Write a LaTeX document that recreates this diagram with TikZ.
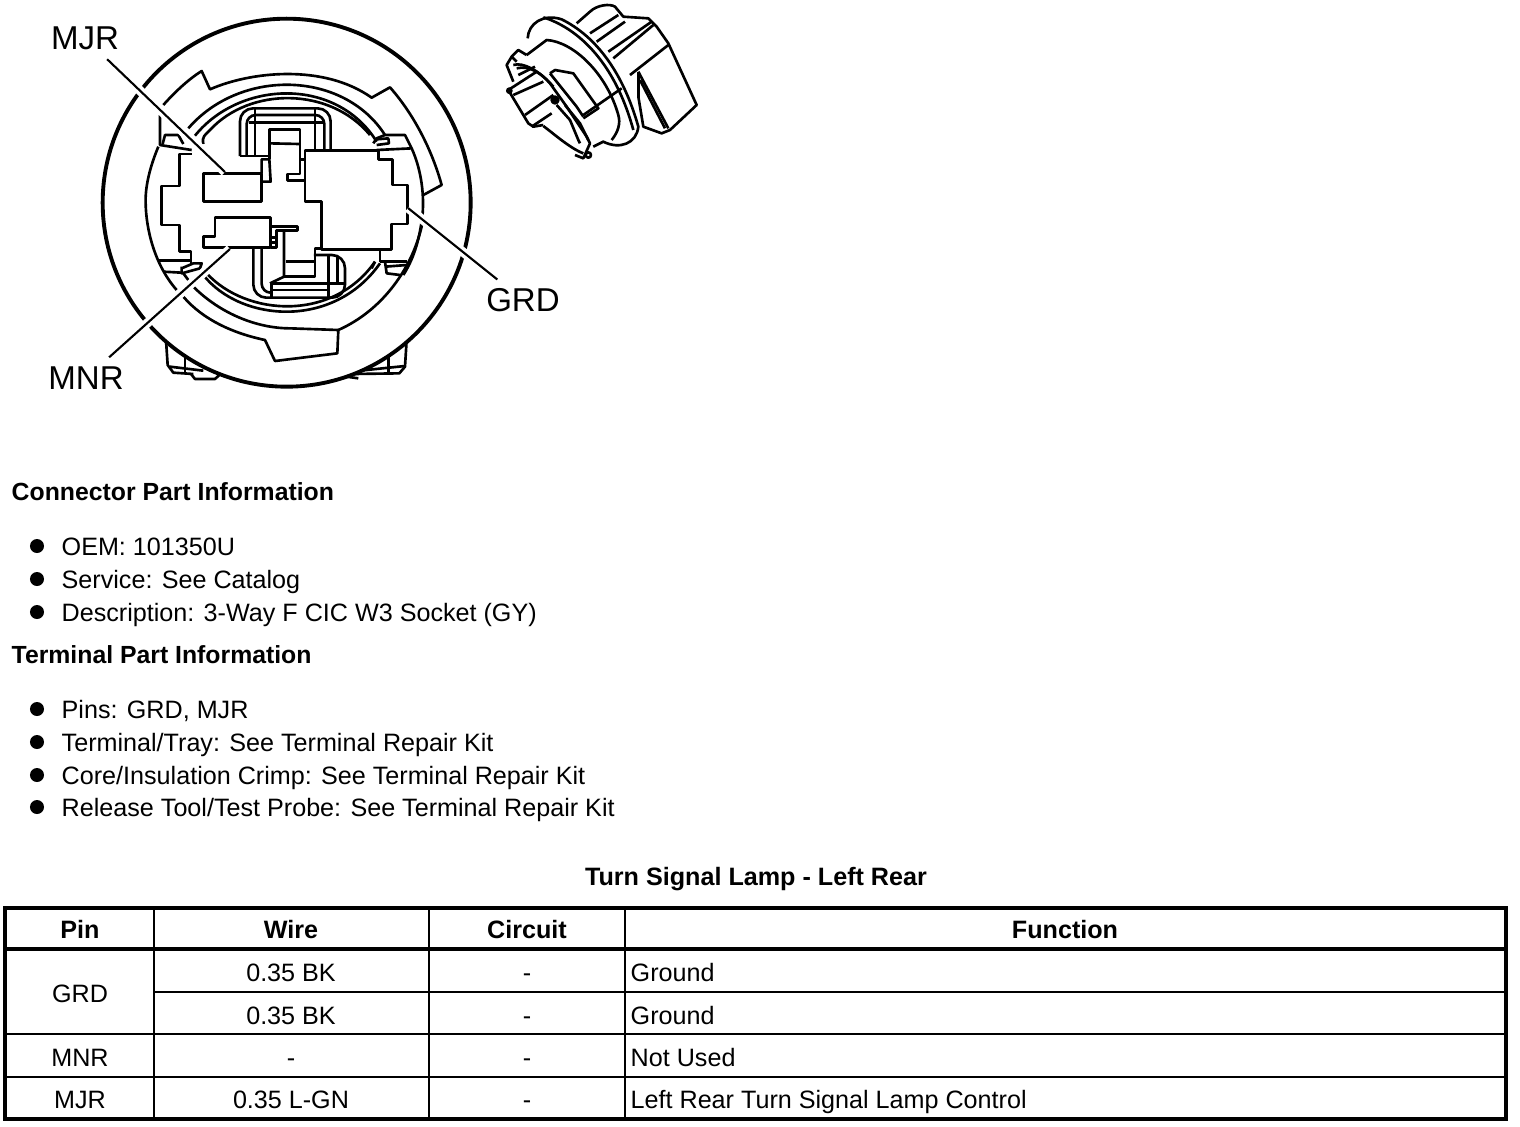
\documentclass[tikz,border=0pt]{standalone}
\usepackage{fontspec}
\setmainfont{Liberation Sans}
\usetikzlibrary{positioning, calc}
\tikzset{
  part/.style={line width=0.75pt, line join=round},
  ring/.style={line width=1.1pt},
  sketch/.style={line width=0.75pt, line join=round},
  leader/.style={line width=0.6pt, shorten <=0.13cm, preaction={draw, white, line width=2.6pt}},
  pinlabel/.style={inner sep=0pt, font=\fontsize{9.4}{11}\selectfont},
  bodytext/.style={anchor=base west, inner sep=0pt, font=\fontsize{7.15}{9}\selectfont},
  headtext/.style={bodytext, font=\fontsize{7.05}{9}\selectfont\bfseries},
  cell/.style={anchor=base, inner sep=0pt, font=\fontsize{7.15}{9}\selectfont},
  headcell/.style={cell, font=\fontsize{7.15}{9}\selectfont\bfseries},
  bullet/.style={circle, fill=black, inner sep=0pt, minimum size=0.14cm},
  thinline/.style={line width=0.3pt},
  tableline/.style={line width=0.6pt},
  tableframe/.style={line width=0.9pt}
}
\begin{document}
\begin{tikzpicture}[x=0.01cm, y=-0.01cm]
\useasboundingbox (0,0) rectangle (1520,1126);
\fill[white] (0,0) rectangle (1520,1126);

% socket, seen from the front
\begin{scope}[shift={(90,0)}, scale=1/3]
  % tabs behind the rim
  \draw[part] (228,1020) -- (233,1095) -- (250,1118) -- (310,1122);
  \draw[part] (950,1020) -- (945,1100) -- (928,1120) -- (790,1122);
  \draw[part] (285,1065) -- (285,1118);
  \draw[part] (895,1060) -- (895,1118);
  \draw[part] (240,1100) -- (340,1112);
  \draw[part] (945,1098) -- (810,1112);
  \draw[part] (303,1122) -- (315,1137) -- (375,1137) -- (388,1125);
  \draw[part] (770,1130) -- (805,1135);
  \draw[ring, fill=white] (590,608) circle[radius=552];
  % notched collar
  \draw[part] (220,315) .. controls (260,270) and (300,235) .. (335,213) -- (360,268)
    .. controls (480,215) and (700,190) .. (845,293) -- (900,262)
    .. controls (960,330) and (1020,430) .. (1055,555) -- (1000,585);
  \draw[part] (280,890) .. controls (340,960) and (430,1000) .. (525,1020) -- (555,1083)
    -- (742,1060) -- (745,990) .. controls (880,930) and (970,800) .. (997,670);
  \draw[part] (310,860) .. controls (390,940) and (500,985) .. (600,985) -- (745,990);
  % inner rings
  \draw[part] (205,440) .. controls (180,500) and (165,560) .. (167,610)
    .. controls (168,680) and (190,790) .. (260,870);
  \draw[part] (965,445) .. controls (990,500) and (1003,570) .. (998,640)
    .. controls (990,710) and (975,770) .. (940,825);
  \draw[part] (295,385) .. controls (450,205) and (760,210) .. (885,405);
  \draw[part] (315,407) .. controls (450,240) and (740,230) .. (860,425);
  \draw[part] (340,432) .. controls (335,410) and (345,405) .. (360,390)
    .. controls (480,260) and (720,260) .. (840,405);
  \draw[part] (340,825) .. controls (450,965) and (730,990) .. (870,790);
  \draw[part] (350,820) .. controls (470,950) and (730,965) .. (855,785);
  % left lugs
  \draw[part] (210,345) -- (210,435) -- (305,450);
  \draw[part] (218,432) -- (225,405) -- (265,405) -- (280,432);
  \draw[part] (205,782) -- (303,782);
  \draw[part] (220,815) -- (275,818);
  \draw[part] (275,800) -- (275,820) -- (330,805) -- (335,790) -- (310,790) -- (275,805);
  \draw[part] (280,820) -- (295,840);
  % right lugs
  \draw[part] (850,430) -- (860,415) -- (885,405) -- (945,405) -- (965,445) -- (860,450);
  \draw[part] (860,418) -- (895,415) -- (897,430) -- (860,435);
  \draw[part] (855,785) -- (845,805);
  \draw[part] (870,785) -- (950,785);
  \draw[part] (885,800) -- (950,795);
  \draw[part] (885,785) -- (890,820) -- (930,825);
  % carrier outline
  \draw[part] (305,462) -- (268,462) -- (268,558) -- (215,558) -- (215,675) -- (268,675)
    -- (268,755) -- (303,755) -- (303,792);
  % top and bottom guides
  \draw[part, rounded corners=1.3mm] (450,468) -- (450,325) -- (722,325) -- (722,450);
  \draw[part, rounded corners=0.9mm] (470,468) -- (470,345) -- (703,345) -- (703,450);
  \draw[part] (450,468) -- (535,468);
  \draw[part] (495,325) -- (495,468);
  \draw[part] (478,368) -- (703,368);
  \draw[part] (675,325) -- (675,450);
  \draw[part, rounded corners=1.3mm] (490,745) -- (490,893) -- (765,893) -- (765,765) -- (672,765);
  \draw[part, rounded corners=0.9mm] (515,745) -- (515,878) -- (545,878);
  \draw[part] (540,850) -- (765,850);
  \draw[part] (545,870) -- (720,870);
  \draw[part] (545,850) -- (545,893);
  \draw[part] (715,768) -- (715,893);
  \draw[part] (742,768) -- (742,850);
  % centre stem
  \draw[part] (515,520) -- (515,478) -- (538,478) -- (542,545) -- (515,545);
  \draw[part] (538,478) -- (538,388) -- (630,388) -- (630,522) -- (592,522) -- (592,542) -- (645,542);
  \draw[part] (538,430) -- (630,432);
  \draw[part] (632,478) -- (645,478);
  \draw[part] (582,692) -- (582,830) -- (540,850);
  \draw[part] (582,830) -- (675,830) -- (675,745) -- (695,745);
  \draw[part] (588,785) -- (675,785);
  % pin blades
  \draw[part] (340,520) rectangle (515,605);
  \draw[part] (645,452) -- (865,452) -- (865,478) -- (908,478) -- (908,555) -- (952,555)
    -- (952,672) -- (905,672) -- (905,748) -- (695,748) -- (695,605) -- (645,605) -- cycle;
  \draw[part] (375,652) -- (542,652) -- (542,742) -- (340,742) -- (340,710) -- (375,710) -- cycle;
  \draw[part] (542,680) -- (622,680) -- (622,692) -- (560,692) -- (560,742) -- (542,742);
  \draw[part] (542,712) -- (560,712);
  \draw[part] (542,727) -- (560,727);
  \draw[part] (870,750) -- (870,785);
\end{scope}

% socket, side view
\begin{scope}[shift={(490,0)}, scale=1/3]
  % flange
  \draw[sketch] (113,115) .. controls (115,70) and (160,40) .. (215,58)
    .. controls (320,110) and (400,220) .. (445,380)
    .. controls (440,430) and (390,450) .. (340,425) -- (310,440);
  \draw[sketch] (160,52) .. controls (250,80) and (370,170) .. (430,390);
  \draw[sketch] (110,165) -- (170,120) .. controls (250,125) and (350,220) .. (385,345)
    .. controls (392,370) and (385,395) .. (365,420);
  % rear body
  \draw[sketch] (260,70) -- (300,35) .. controls (320,15) and (360,10) .. (375,20) -- (400,50)
    -- (475,55) -- (500,80) -- (535,130) -- (620,315) -- (540,390) -- (515,400) -- (460,380) -- (445,290);
  \draw[sketch] (300,100) -- (385,45);
  \draw[sketch] (320,125) -- (405,65);
  \draw[sketch] (355,155) -- (485,65);
  \draw[sketch] (370,175) -- (490,75);
  \draw[sketch] (420,225) -- (535,135);
  \draw[sketch] (445,215) -- (535,385);
  \draw[sketch] (450,240) -- (525,385);
  \draw[sketch] (445,215) -- (445,290);
  % front end
  \draw[sketch] (110,165) -- (85,150) -- (65,170) -- (50,195) -- (70,245);
  \draw[sketch] (65,170) -- (80,185);
  \draw[sketch] (70,195) .. controls (100,185) and (150,215) .. (180,250)
    -- (230,320) -- (290,410) -- (300,430) -- (280,475) -- (255,465);
  \draw[sketch] (80,205) .. controls (120,195) and (155,220) .. (190,260);
  \draw[sketch] (85,225) -- (135,200);
  \draw[sketch] (55,270) -- (115,370) -- (130,380) -- (160,375);
  \draw[sketch] (55,270) -- (140,215);
  \draw[sketch] (70,285) -- (160,245);
  \draw[sketch] (105,345) -- (190,285);
  \draw[sketch] (125,380) -- (185,340);
  \draw[sketch] (160,378) .. controls (190,400) and (240,445) .. (280,460);
  \draw[sketch] (180,220) -- (195,210) -- (250,220) -- (300,290) -- (325,325) -- (280,355);
  \draw[sketch] (180,220) -- (260,320) -- (280,350);
  \draw[sketch] (280,345) -- (395,265);
  \draw[sketch] (200,315) -- (240,360) -- (265,420) -- (270,430);
  \draw[sketch] (225,315) -- (270,370) -- (295,420);
  \draw[sketch, fill=black] (195,300) circle[radius=10];
  \draw[sketch] (295,465) circle[radius=8];
  \draw[sketch, fill=black] (58,272) circle[radius=6];
\end{scope}

% pin labels and leaders
\node[pinlabel] (mjrlabel) at (85,38) {MJR};
\node[pinlabel] (grdlabel) at (523,300) {GRD};
\node[pinlabel] (mnrlabel) at (86,378) {MNR};
\coordinate (mjrend) at (225,172);
\coordinate (grdend) at (408,208);
\coordinate (mnrend) at (230,249);
\draw[leader] (mjrlabel) -- (mjrend);
\draw[leader] (grdlabel) -- (grdend);
\draw[leader] (mnrlabel) -- (mnrend);

% part information
\node[headtext] (connhead) at (11,500) {Connector Part Information};
\node[headtext] (termhead) at (11,663) {Terminal Part Information};
\foreach \i/\y/\lbl in {1/555/{OEM: 101350U}, 2/588/{Service: See Catalog},
    3/621/{Description: 3-Way F CIC W3 Socket (GY)}, 4/718/{Pins: GRD, MJR},
    5/751/{Terminal/Tray: See Terminal Repair Kit},
    6/784/{Core/Insulation Crimp: See Terminal Repair Kit},
    7/816/{Release Tool/Test Probe: See Terminal Repair Kit}} {
  \node[bullet] (dot\i) at (37,\y-9) {};
  \node[bodytext] (item\i) at (61,\y) {\lbl};
}

% pin table
\node[headcell] (tabletitle) at (756,885) {Turn Signal Lamp - Left Rear};
\draw[tableframe] (5,949) -- (1506,949);
\draw[thinline] (154,992) -- (1506,992);
\draw[thinline] (5,1034) -- (1506,1034);
\draw[tableline] (5,1077) -- (1506,1077);
\foreach \x in {154,429,625}
  \draw[tableline] (\x,908) -- (\x,1119);
\draw[tableframe] (5,908) rectangle (1506,1119);
\foreach \i/\x/\lbl in {1/80/Pin, 2/291/Wire, 3/527/Circuit, 4/1065/Function}
  \node[headcell] (head\i) at (\x,938) {\lbl};
\node[cell] (pingrd) at (80,1002) {GRD};
\node[cell] (pinmnr) at (80,1066) {MNR};
\node[cell] (pinmjr) at (80,1108) {MJR};
\foreach \i/\y/\wire/\func in {1/981/0.35 BK/Ground, 2/1024/0.35 BK/Ground,
    3/1066/-/Not Used, 4/1108/0.35 L-GN/Left Rear Turn Signal Lamp Control} {
  \node[cell] (wire\i) at (291,\y) {\wire};
  \node[cell] (circuit\i) at (527,\y) {-};
  \node[bodytext] (func\i) at (630,\y) {\func};
}
\end{tikzpicture}
\end{document}
